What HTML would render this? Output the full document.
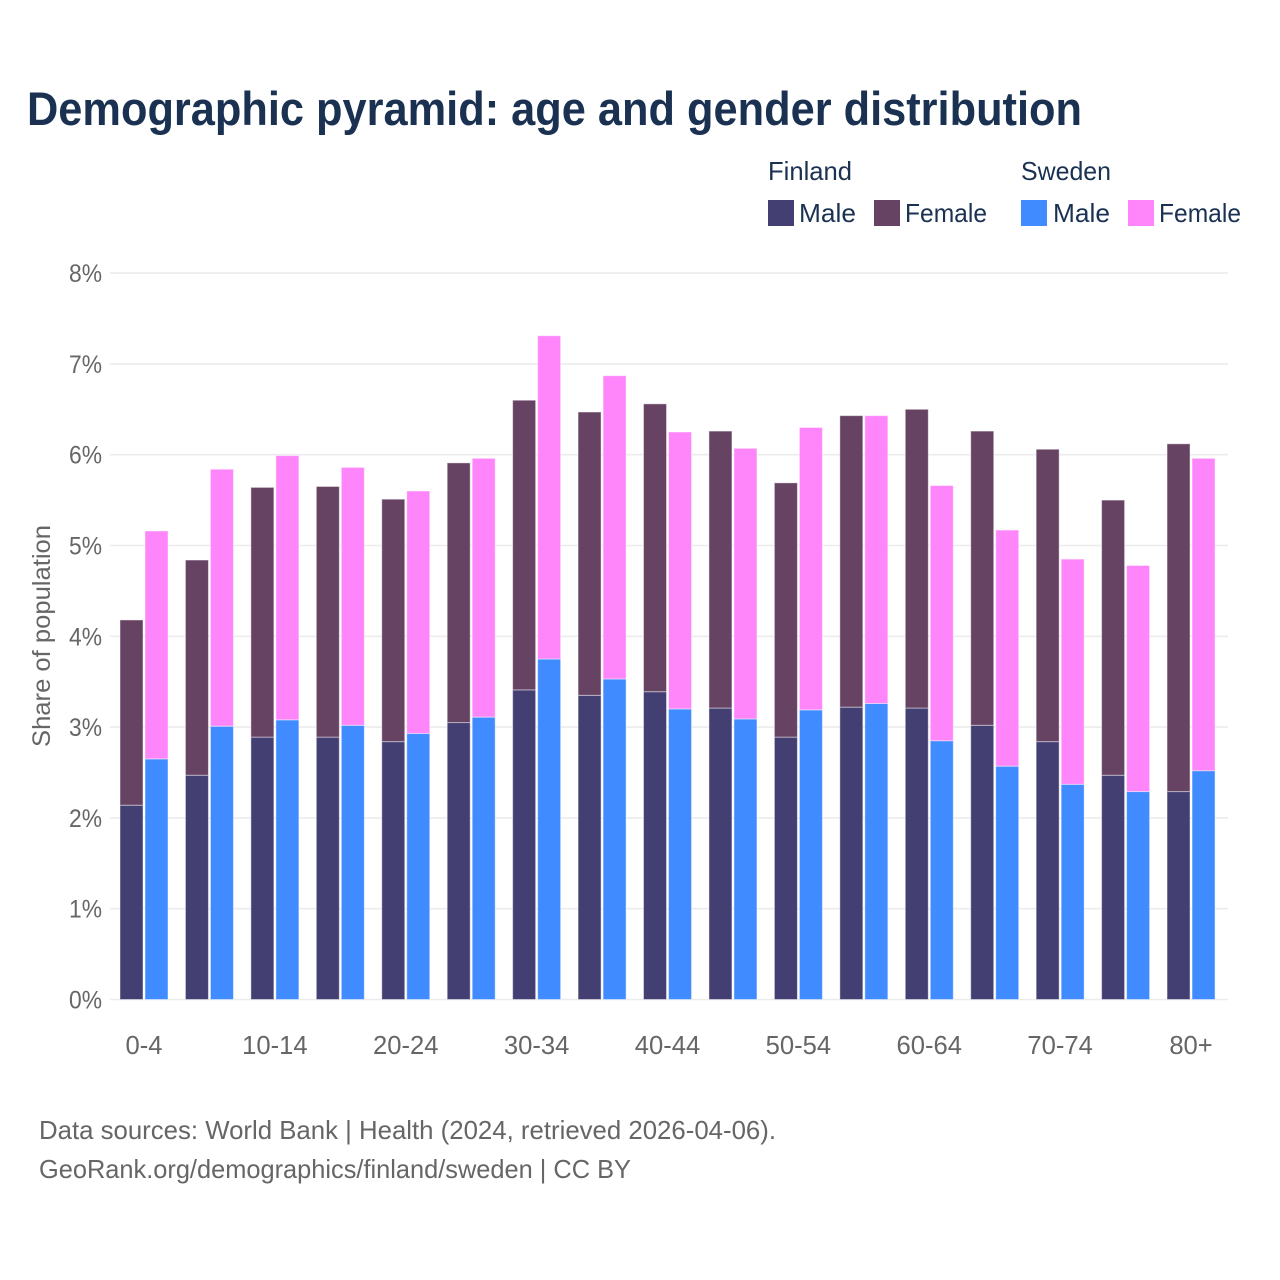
<!DOCTYPE html>
<html lang="en">
<head>
<meta charset="utf-8">
<title>Demographic pyramid: age and gender distribution</title>
<style>
html,body{margin:0;padding:0;background:#fff;width:1280px;height:1280px;overflow:hidden}
svg{display:block;font-family:"Liberation Sans",sans-serif}
</style>
</head>
<body>
<svg id="chart" width="1280" height="1280" viewBox="0 0 1280 1280" xmlns="http://www.w3.org/2000/svg">
  <rect x="0" y="0" width="1280" height="1280" fill="#fff"/>
  <text x="27" y="125" font-size="47" font-weight="700" fill="#1a3152" textLength="1055" lengthAdjust="spacingAndGlyphs">Demographic pyramid: age and gender distribution</text>

  <g font-size="26" fill="#1a3152">
    <text x="768" y="180" textLength="84" lengthAdjust="spacingAndGlyphs">Finland</text>
    <text x="1021" y="180" textLength="90" lengthAdjust="spacingAndGlyphs">Sweden</text>
    <rect x="768" y="200" width="26" height="26" fill="#433f72"/>
    <text x="799" y="222" textLength="57" lengthAdjust="spacingAndGlyphs">Male</text>
    <rect x="874" y="200" width="26" height="26" fill="#664263"/>
    <text x="905" y="222" textLength="82" lengthAdjust="spacingAndGlyphs">Female</text>
    <rect x="1021" y="200" width="26" height="26" fill="#3f8bff"/>
    <text x="1053" y="222" textLength="57" lengthAdjust="spacingAndGlyphs">Male</text>
    <rect x="1128" y="200" width="26" height="26" fill="#ff85fa"/>
    <text x="1159" y="222" textLength="82" lengthAdjust="spacingAndGlyphs">Female</text>
  </g>

  <g id="grid"></g>
  <g id="bars"></g>
  <g id="ytick-labels"></g>
  <g id="xtick-labels"></g>

  <text transform="translate(50 636) rotate(-90)" text-anchor="middle" font-size="25" fill="#666" textLength="222" lengthAdjust="spacingAndGlyphs">Share of population</text>

  <text x="39" y="1139" font-size="26" fill="#666" textLength="737" lengthAdjust="spacingAndGlyphs">Data sources: World Bank | Health (2024, retrieved 2026-04-06).</text>
  <text x="39" y="1178" font-size="26" fill="#666" textLength="592" lengthAdjust="spacingAndGlyphs">GeoRank.org/demographics/finland/sweden | CC BY</text>
</svg>
<script>
const categories = ["0-4","5-9","10-14","15-19","20-24","25-29","30-34","35-39","40-44","45-49","50-54","55-59","60-64","65-69","70-74","75-79","80+"];
const finlandMale = [2.14,2.47,2.89,2.89,2.84,3.05,3.41,3.35,3.39,3.21,2.89,3.22,3.21,3.02,2.84,2.47,2.29];
const finlandFemale = [2.04,2.37,2.75,2.76,2.67,2.86,3.19,3.12,3.17,3.05,2.80,3.21,3.29,3.24,3.22,3.03,3.83];
const swedenMale = [2.65,3.01,3.08,3.02,2.93,3.11,3.75,3.53,3.20,3.09,3.19,3.26,2.85,2.57,2.37,2.29,2.52];
const swedenFemale = [2.51,2.83,2.91,2.84,2.67,2.85,3.56,3.34,3.05,2.98,3.11,3.17,2.81,2.60,2.48,2.49,3.44];
const yTicks = [0,1,2,3,4,5,6,7,8];
const NS = "http://www.w3.org/2000/svg";

function yScale(v){ return 999.5 - v * 90.8; }
function xScale(i){ return 120 + i * 65.44; }

const grid = document.getElementById("grid");
const yLabels = document.getElementById("ytick-labels");
yTicks.forEach(function(t){
  const line = document.createElementNS(NS, "line");
  
  
  line.setAttribute("x1", 110);
  line.setAttribute("x2", 1228);
  line.setAttribute("y1", yScale(t));
  line.setAttribute("y2", yScale(t));
  line.setAttribute("stroke", "#ececec");
  line.setAttribute("stroke-width", 1.6);
  grid.appendChild(line);
  const label = document.createElementNS(NS, "text");
  
  
  label.setAttribute("x", 69);
  label.setAttribute("y", yScale(t) + 9);
  label.setAttribute("font-size", 25);
  label.setAttribute("fill", "#666");
  label.setAttribute("textLength", 33);
  label.setAttribute("lengthAdjust", "spacingAndGlyphs");
  label.textContent = t + "%";
  yLabels.appendChild(label);
});

const barsGroup = document.getElementById("bars");
function drawBar(x, base, value, color){
  const r = document.createElementNS(NS, "rect");
  
  
  r.setAttribute("x", x);
  r.setAttribute("y", yScale(base + value));
  r.setAttribute("width", 23);
  r.setAttribute("height", yScale(base) - yScale(base + value));
  r.setAttribute("fill", color);
  r.setAttribute("stroke", "#fff");
  r.setAttribute("stroke-opacity", 0.45);
  r.setAttribute("stroke-width", 1);
  barsGroup.appendChild(r);
}
const xLabels = document.getElementById("xtick-labels");
categories.forEach(function(c, i){
  drawBar(xScale(i), 0, finlandMale[i], "#433f72");
  drawBar(xScale(i), finlandMale[i], finlandFemale[i], "#664263");
  drawBar(xScale(i) + 25, 0, swedenMale[i], "#3f8bff");
  drawBar(xScale(i) + 25, swedenMale[i], swedenFemale[i], "#ff85fa");
  if (i % 2 === 0) {
    const label = document.createElementNS(NS, "text");
    
    
    label.setAttribute("x", xScale(i) + 24);
    label.setAttribute("y", 1054);
    label.setAttribute("text-anchor", "middle");
    label.setAttribute("font-size", 25.6);
    label.setAttribute("fill", "#666");
    label.textContent = c;
    xLabels.appendChild(label);
  }
});
</script>
</body>
</html>
